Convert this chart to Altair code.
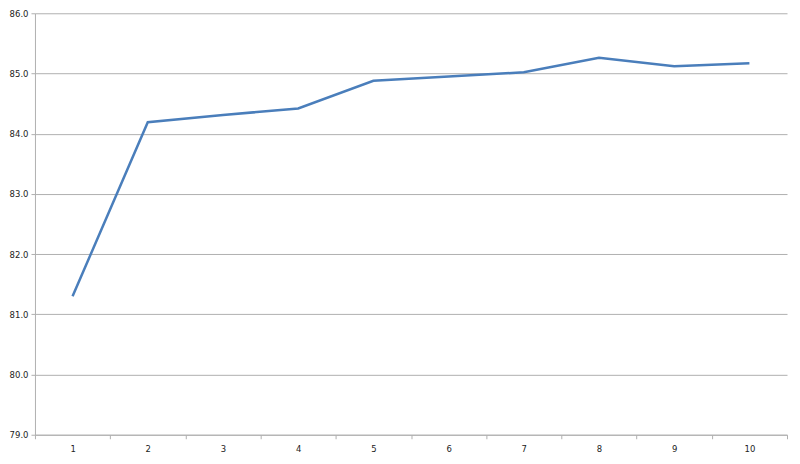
import altair as alt
import pandas as pd

x_labels = ["1", "2", "3", "4", "5", "6", "7", "8", "9", "10"]
values = [81.30, 84.19, 84.31, 84.42, 84.88, 84.95, 85.02, 85.26, 85.12, 85.17]

df = pd.DataFrame({"x": x_labels, "v": values})

font = "DejaVu Sans"

chart = alt.Chart(df).mark_line(color="#4a7ebb", strokeWidth=2.5).encode(
    x=alt.X(
        "x:O",
        sort=x_labels,
        scale=alt.Scale(type="band", paddingInner=0, paddingOuter=0),
        axis=alt.Axis(
            title=None,
            labelAngle=0,
            tickBand="extent",
            grid=False,
            domainColor="#b0b0b0",
            tickColor="#b0b0b0",
            tickSize=4,
            labelPadding=6,
            labelFont=font,
            labelFontSize=8.5,
            labelColor="#222222",
        ),
    ),
    y=alt.Y(
        "v:Q",
        scale=alt.Scale(domain=[79, 86], nice=False, zero=False),
        axis=alt.Axis(
            title=None,
            values=[79, 80, 81, 82, 83, 84, 85, 86],
            format=".1f",
            grid=True,
            gridColor="#b0b0b0",
            domainColor="#b0b0b0",
            tickColor="#b0b0b0",
            tickSize=4,
            labelPadding=3,
            labelFont=font,
            labelFontSize=8.5,
            labelColor="#222222",
        ),
    ),
).properties(
    width=753,
    height=422,
    autosize=alt.AutoSizeParams(type="none"),
    padding={"left": 27, "top": 5, "right": 5, "bottom": 25},
).configure_view(stroke=None).configure_axis(gridWidth=1, domainWidth=1)

chart.save("out.html", embed_options={"renderer": "svg", "actions": False})
